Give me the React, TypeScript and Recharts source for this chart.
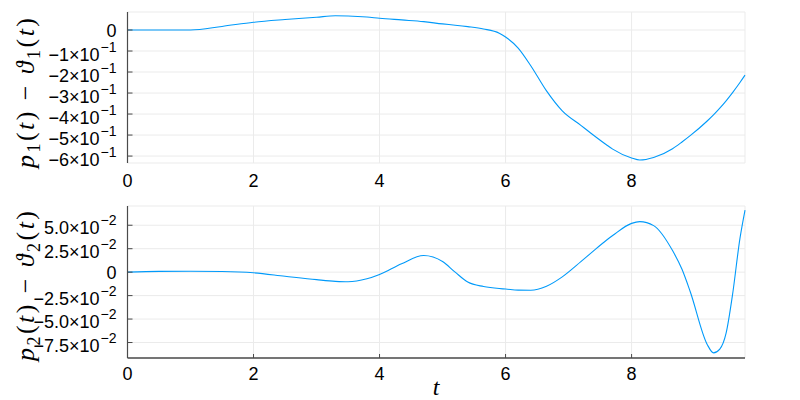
import { LineChart, Line, XAxis, YAxis, CartesianGrid } from 'recharts';

// sample times and the two differences
const tValues = [
  0, 0.5, 1, 1.5, 2, 2.5, 3, 3.3, 3.5, 3.8, 4, 4.35, 4.7, 5, 5.2, 5.4, 5.65, 5.9, 6, 6.2,
  6.4, 6.65, 6.9, 7.2, 7.35, 7.6, 7.7, 8, 8.13, 8.35, 8.65, 8.8, 8.93, 9.2, 9.3, 9.4, 9.5,
  9.6, 9.72, 9.8,
];
const diff1 = [
  0, 0, 0, 0.017, 0.037, 0.05, 0.061, 0.068, 0.067, 0.062, 0.056, 0.048, 0.04, 0.029, 0.023,
  0.016, 0.005, -0.015, -0.033, -0.086, -0.17, -0.29, -0.385, -0.455, -0.49, -0.546, -0.567,
  -0.609, -0.619, -0.607, -0.565, -0.533, -0.503, -0.433, -0.404, -0.372, -0.337, -0.299,
  -0.25, -0.215,
];
const diff2 = [
  0, 0.0008, 0.001, 0.0007, -0.0007, -0.0044, -0.008, -0.0098, -0.0103, -0.0071, -0.0025,
  0.009, 0.0177, 0.0113, 0.0, -0.0106, -0.0153, -0.0175, -0.018, -0.0192, -0.0193, -0.015,
  -0.005, 0.0115, 0.02, 0.034, 0.039, 0.052, 0.0538, 0.0496, 0.023, 0.003, -0.0206, -0.077,
  -0.086, -0.082, -0.065, -0.025, 0.036, 0.066,
];

const xTicks = [0, 2, 4, 6, 8];
const yTicks1 = [-0.6, -0.5, -0.4, -0.3, -0.2, -0.1, 0];
const yLabels1 = ['−6', '−5', '−4', '−3', '−2', '−1', '0'];
const yExp1 = '−1';
const yTicks2 = [-0.075, -0.05, -0.025, 0, 0.025, 0.05];
const yLabels2 = ['−7.5', '−5.0', '−2.5', '0', '2.5', '5.0'];
const yExp2 = '−2';

const rows = tValues.map((t, i) => ({ t, d1: diff1[i], d2: diff2[i] }));

const BLUE = '#009AFA';
const GRID = '#ebebeb';
const SPINE = '#4a4a4a';
const tickFont = 'Liberation Sans';
const mathFont = 'Liberation Serif';

function makeYTick(ticks: number[], labels: string[], exp: string, shift: number) {
  return (props: any) => {
    const { x, y, payload } = props;
    const idx = ticks.findIndex(v => Math.abs(v - payload.value) < 1e-9);
    const base = idx >= 0 ? labels[idx] : '';
    if (base === '0') {
      return (
        <text x={x} y={y} dy={6.5} textAnchor="end" fontSize={18} fontFamily={tickFont} fill="#000">
          0
        </text>
      );
    }
    return (
      <text x={x} y={y} dy={shift} textAnchor="end" fontSize={18} fontFamily={tickFont} fill="#000">
        {base}×10
        <tspan dx={1} dy={-9} fontSize={14}>{exp}</tspan>
      </text>
    );
  };
}

function makeXTick(shift: number) {
  return (props: any) => {
    const { x, y, payload } = props;
    return (
      <text x={x} y={y} dy={shift} textAnchor="middle" fontSize={18} fontFamily={tickFont} fill="#000">
        {payload.value}
      </text>
    );
  };
}

function MathLabel({ cx, cy, sub }: { cx: number; cy: number; sub: string }) {
  return (
    <text
      transform={`translate(${cx},${cy}) rotate(-90)`}
      textAnchor="middle"
      fontFamily={mathFont}
      fontSize={26}
      fill="#000"
      textLength={150}
      lengthAdjust="spacing"
    >
      <tspan fontStyle="italic">p</tspan>
      <tspan fontSize={18} dy={6}>{sub}</tspan>
      <tspan dy={-6}>(</tspan>
      <tspan fontStyle="italic">t</tspan>
      <tspan>)  −  </tspan>
      <tspan fontStyle="italic">ϑ</tspan>
      <tspan fontSize={18} dy={6}>{sub}</tspan>
      <tspan dy={-6}>(</tspan>
      <tspan fontStyle="italic">t</tspan>
      <tspan>)</tspan>
    </text>
  );
}

export default function App() {
  return (
    <div style={{ position: 'fixed', left: 0, top: 0, width: 800, height: 400, background: '#fff' }}>
      <div style={{ position: 'absolute', left: 0, top: 0 }}>
        <LineChart width={800} height={195} data={rows} margin={{ top: 12, right: 55, bottom: 2, left: 17.5 }}>
          <CartesianGrid stroke={GRID} strokeWidth={1} />
          <XAxis
            dataKey="t"
            type="number"
            domain={[0, 9.8]}
            ticks={xTicks}
            interval={0}
            axisLine={false}
            tickLine={false}
            tick={makeXTick(8)}
            tickMargin={10}
            height={30}
          />
          <YAxis
            type="number"
            domain={[-0.633, 0.0857]}
            ticks={yTicks1}
            interval={0}
            width={110}
            axisLine={{ stroke: SPINE, strokeWidth: 1.2 }}
            tickLine={{ stroke: SPINE }}
            tickSize={-5}
            tickMargin={16}
            tick={makeYTick(yTicks1, yLabels1, yExp1, 10)}
            allowDataOverflow
          />
          <Line dataKey="d1" type="monotone" stroke={BLUE} strokeWidth={1.1} dot={false} isAnimationActive={false} />
        </LineChart>
      </div>
      <div style={{ position: 'absolute', left: 0, top: 195 }}>
        <LineChart width={800} height={205} data={rows} margin={{ top: 11, right: 55, bottom: 12, left: 17.5 }}>
          <CartesianGrid stroke={GRID} strokeWidth={1} />
          <XAxis
            dataKey="t"
            type="number"
            domain={[0, 9.8]}
            ticks={xTicks}
            interval={0}
            axisLine={{ stroke: SPINE, strokeWidth: 1.5 }}
            tickLine={{ stroke: SPINE }}
            tickSize={-4}
            tickMargin={16}
            tick={makeXTick(10)}
            height={30}
          />
          <YAxis
            type="number"
            domain={[-0.0915, 0.0705]}
            ticks={yTicks2}
            interval={0}
            width={110}
            axisLine={{ stroke: SPINE, strokeWidth: 1.2 }}
            tickLine={{ stroke: SPINE }}
            tickSize={-5}
            tickMargin={16}
            tick={makeYTick(yTicks2, yLabels2, yExp2, 9)}
            allowDataOverflow
          />
          <Line dataKey="d2" type="monotone" stroke={BLUE} strokeWidth={1.1} dot={false} isAnimationActive={false} />
        </LineChart>
      </div>
      <svg width={800} height={400} style={{ position: 'absolute', left: 0, top: 0, pointerEvents: 'none' }}>
        <MathLabel cx={34} cy={93} sub="1" />
        <MathLabel cx={34} cy={286} sub="2" />
        <text x={436} y={395} textAnchor="middle" fontFamily={mathFont} fontStyle="italic" fontSize={24} fill="#000">
          t
        </text>
      </svg>
    </div>
  );
}
